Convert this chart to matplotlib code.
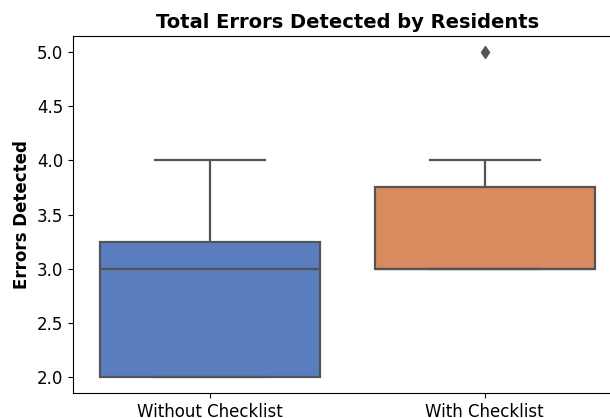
import matplotlib
matplotlib.use("Agg")
import matplotlib.pyplot as plt
import seaborn as sns
import pandas as pd

# Errores detectados por residente en cada grupo
grupos = ["Without Checklist", "With Checklist"]
sin_checklist = [2, 2, 2, 3, 3, 3, 4, 4]
con_checklist = [3, 3, 3, 3, 4, 5]

datos = pd.DataFrame({
    "Group": [grupos[0]] * len(sin_checklist) + [grupos[1]] * len(con_checklist),
    "Errors": sin_checklist + con_checklist,
})

fig = plt.figure(figsize=(6.10, 4.18), dpi=100)
ax = fig.add_axes([0.1197, 0.0598, 0.90, 0.854])

sns.boxplot(data=datos, x="Group", y="Errors", hue="Group", order=grupos,
            palette="muted", legend=False, ax=ax, linewidth=1.6,
            flierprops=dict(marker="d", markersize=6,
                            markerfacecolor="#555555", markeredgecolor="#555555"))

ax.set_xlim(-0.5, 1.5)
ax.set_ylim(1.85, 5.15)
ax.set_yticks([2.0, 2.5, 3.0, 3.5, 4.0, 4.5, 5.0])
ax.tick_params(labelsize=12)
ax.set_xlabel("")
ax.set_ylabel("Errors Detected", fontsize=12, fontweight="bold")
ax.set_title("Total Errors Detected by Residents", fontsize=14, fontweight="bold")

fig.savefig("out.png", dpi=100)
